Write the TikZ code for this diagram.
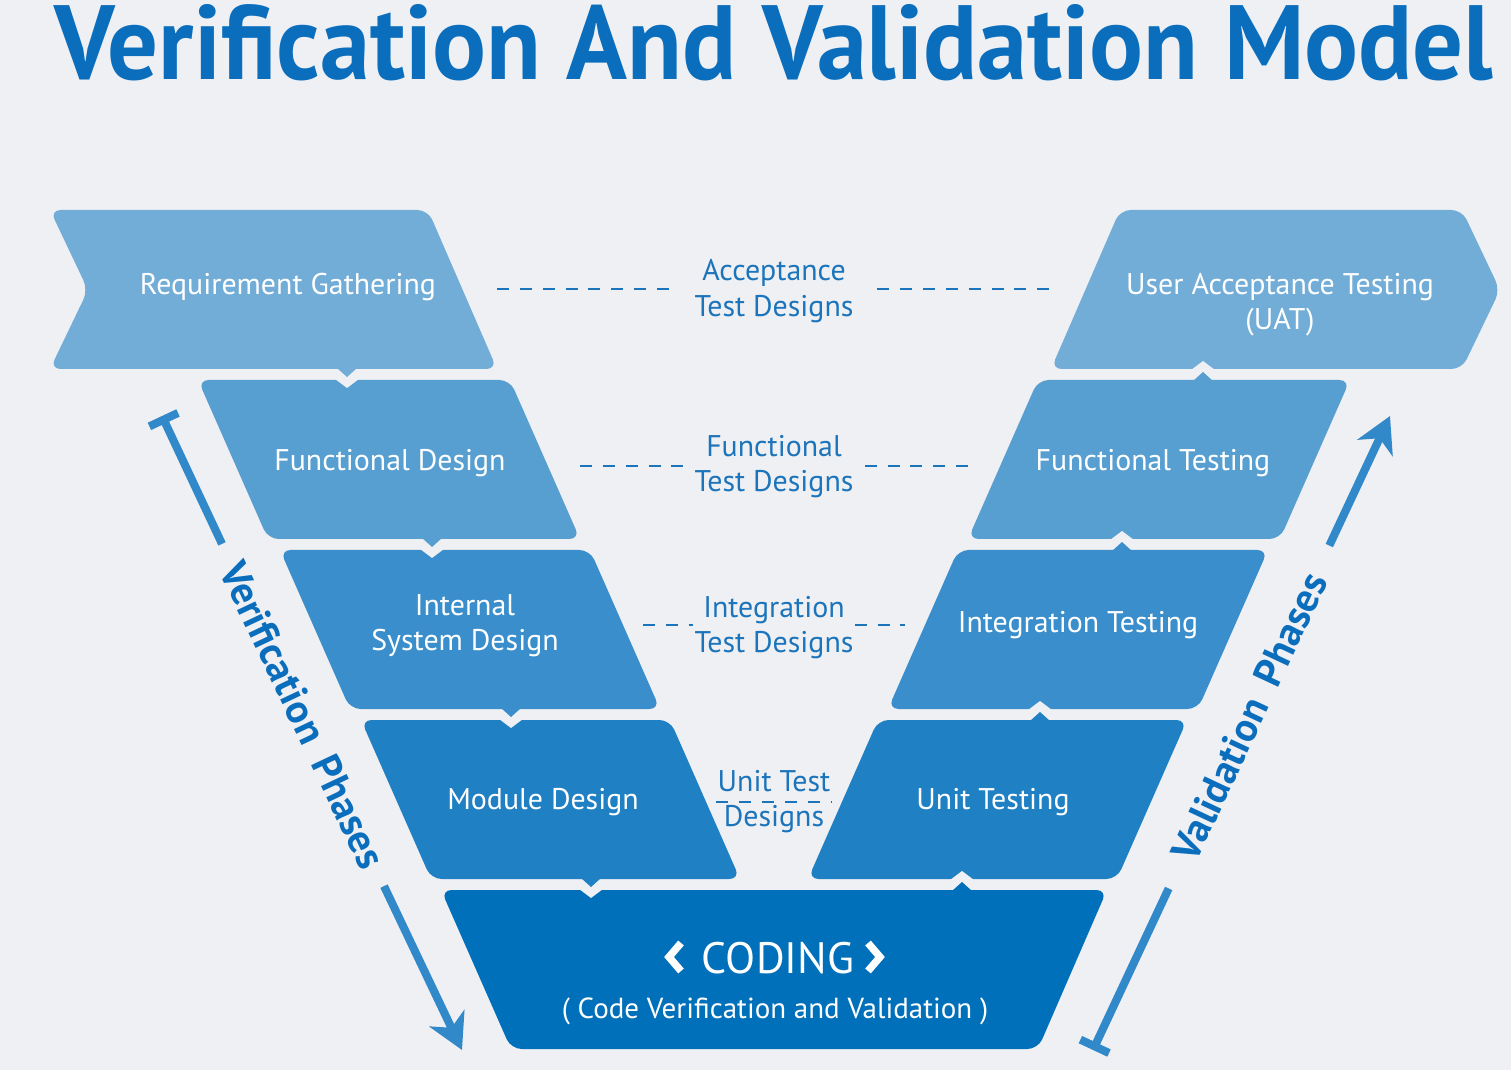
\documentclass[tikz,border=0pt]{standalone}
\usepackage{fontspec}
\setmainfont{PT Sans}
\usepackage{graphicx}
\usetikzlibrary{arrows.meta, calc}

\definecolor{bgc}{HTML}{EFF0F4}
\definecolor{lvA}{HTML}{72ADD8}
\definecolor{lvB}{HTML}{589FD1}
\definecolor{lvC}{HTML}{3A8ECB}
\definecolor{lvD}{HTML}{1F80C4}
\definecolor{lvE}{HTML}{0070BA}
\definecolor{vvblue}{HTML}{0A6EBD}
\definecolor{dashblue}{HTML}{1C74BA}
\definecolor{barblue}{HTML}{3289C9}

\tikzset{
  stage/.style={rounded corners=3pt},
  stagetext/.style={text=white, font=\fontsize{8.5}{10}\selectfont, align=center, inner sep=0pt},
  testlbl/.style={text=dashblue, font=\fontsize{8.5}{10}\selectfont, align=center, inner sep=0pt},
  dashline/.style={dashblue, line width=0.6pt, dash pattern=on 3.4pt off 3.1pt},
  phasebar/.style={barblue, line width=2.3pt},
  phasetxt/.style={text=vvblue, font=\bfseries\fontsize{11.5}{13}\selectfont, inner sep=0pt, minimum width=3.77cm},
  chev/.style={white, line width=2.1pt, line cap=butt, line join=miter},
}

\begin{document}
\begin{tikzpicture}[x=0.01cm, y=-0.01cm]
\fill[bgc] (0,0) rectangle (1511,1070);
\useasboundingbox (0,0) rectangle (1511,1070);

% title
\node[text=vvblue, inner sep=0pt, font=\bfseries] (ttl) at (774,43)
  {\resizebox{14.38cm}{0.75cm}{Verification And Validation Model}};

% left arm
\fill[lvA, stage] (50,210) -- (428,210) -- (497,369) -- (50,369) -- (88,290) -- cycle;
\fill[lvB, stage] (198,380) -- (510,380) -- (580,539) -- (268,539) -- cycle;
\fill[lvC, stage] (280,550) -- (590,550) -- (660,709) -- (350,709) -- cycle;
\fill[lvD, stage] (361,720) -- (670,720) -- (740,879) -- (431,879) -- cycle;
% coding
\fill[lvE, stage] (441,890) -- (1107,890) -- (1038,1049) -- (511,1049) -- cycle;
% right arm
\fill[lvD, stage] (878,720) -- (1187,720) -- (1117,879) -- (808,879) -- cycle;
\fill[lvC, stage] (958,550) -- (1268,550) -- (1198,709) -- (888,709) -- cycle;
\fill[lvB, stage] (1038,380) -- (1350,380) -- (1280,539) -- (968,539) -- cycle;
\fill[lvA, stage] (1120,210) -- (1462,210) -- (1500,290) -- (1462,369) -- (1051,369) -- cycle;

% pointers down the left arm
\foreach \c/\b/\col in {347/369/lvA, 432/539/lvB, 511/709/lvC, 591/879/lvD} {
  \fill[bgc] (\c-12,\b+10) -- (\c+12,\b+10) -- (\c,\b+19) -- cycle;
  \fill[\col] (\c-10,\b-1) -- (\c+10,\b-1) -- (\c,\b+8) -- cycle;
}
% pointers up the right arm
\foreach \c/\b/\col in {962/879/lvE, 1040/709/lvD, 1122/539/lvC, 1203/369/lvB} {
  \fill[bgc] (\c-12,\b+1) -- (\c+12,\b+1) -- (\c,\b-8) -- cycle;
  \fill[\col] (\c-10,\b+12) -- (\c+10,\b+12) -- (\c,\b+3) -- cycle;
}

% stage labels
\node[stagetext] (rg) at (288,287) {Requirement Gathering};
\node[stagetext] (fd) at (390,463) {Functional Design};
\node[stagetext] (isd) at (465,626) {Internal\\System Design};
\node[stagetext] (md) at (543,802) {Module Design};
\node[stagetext] (uat) at (1280,305) {User Acceptance Testing\\(UAT)};
\node[stagetext] (ft) at (1153,463) {Functional Testing};
\node[stagetext] (it) at (1078,625) {Integration Testing};
\node[stagetext] (ut) at (993,802) {Unit Testing};
\node[stagetext, font=\fontsize{12.5}{15}\selectfont] (cod) at (778,958) {CODING};
\node[stagetext, font=\fontsize{8.25}{10}\selectfont] (codsub) at (775,1011)
  {( Code Verification and Validation )};
\draw[chev] (681,943) -- (669,957) -- (681,971);
\draw[chev] (868,943) -- (880,957) -- (868,971);

% test design labels
\node[testlbl, minimum width=2.05cm] (atd) at (774,291) {Acceptance\\Test Designs};
\node[testlbl, minimum width=1.8cm] (ftd) at (774,467) {Functional\\Test Designs};
\node[testlbl, minimum width=1.6cm] (itd) at (774,628) {Integration\\Test Designs};
\node[testlbl, minimum width=1.14cm] (utd) at (774,802) {Unit Test\\Designs};

\coordinate (atd-w) at (497,289);
\coordinate (atd-e) at (1052,289);
\coordinate (ftd-w) at (580,466);
\coordinate (ftd-e) at (968,466);
\coordinate (itd-w) at (643,625);
\coordinate (itd-e) at (905,625);
\draw[dashline] (atd-w) -- (atd-w -| atd.west);
\draw[dashline] (atd-e -| atd.east) -- (atd-e);
\draw[dashline] (ftd-w) -- (ftd-w -| ftd.west);
\draw[dashline] (ftd-e -| ftd.east) -- (ftd-e);
\draw[dashline] (itd-w) -- (itd-w -| itd.west);
\draw[dashline] (itd-e -| itd.east) -- (itd-e);
\draw[dashline] (utd.west) -- (utd.east);

% phase arrows
\coordinate (vtop) at (162,416);
\coordinate (vtip) at (462,1050);
\node[phasetxt, rotate=-64.67] (vph) at (303,715) {Verification\hspace{0.45em}Phases};
\draw[phasebar, {Bar[width=9pt]}-] (vtop) -- (vph.west);
\draw[phasebar, -{Stealth[length=10pt, width=11pt, inset=3pt]}] (vph.east) -- (vtip);

\coordinate (lbot) at (1093,1050);
\coordinate (ltip) at (1390,416);
\node[phasetxt, rotate=64.9] (lph) at (1249,717) {Validation\hspace{0.45em}Phases};
\draw[phasebar, {Bar[width=9pt]}-] (lbot) -- (lph.west);
\draw[phasebar, -{Stealth[length=10pt, width=11pt, inset=3pt]}] (lph.east) -- (ltip);
\end{tikzpicture}
\end{document}
